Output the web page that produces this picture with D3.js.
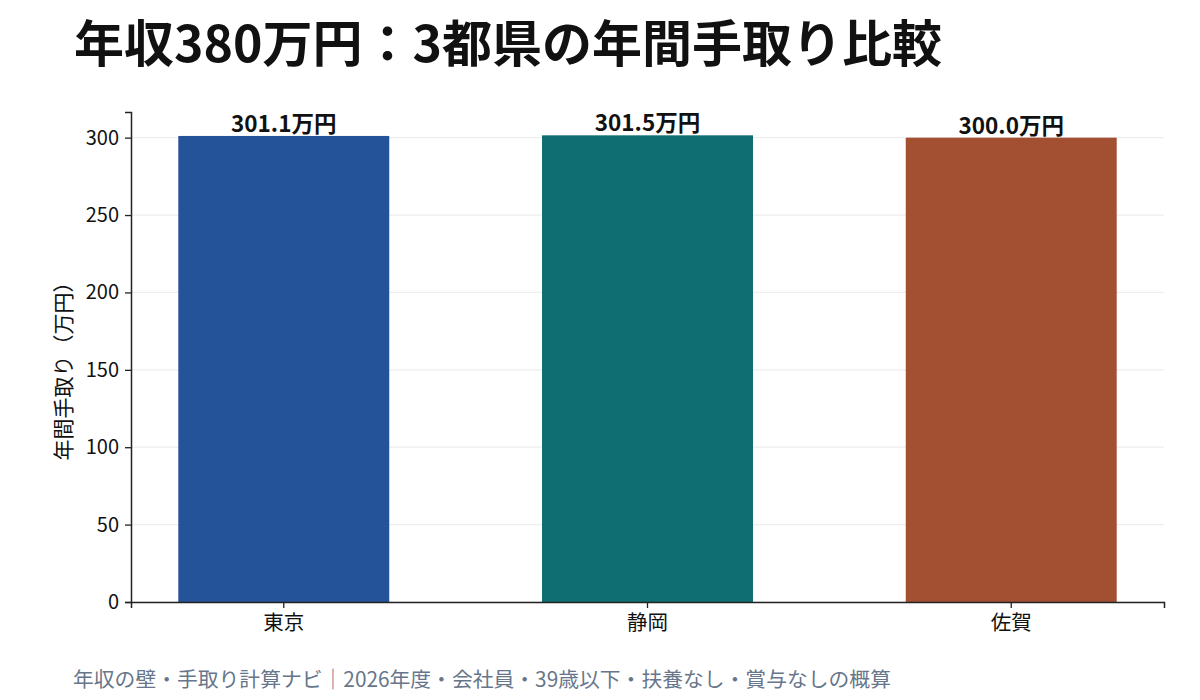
<!DOCTYPE html>
<html>
<head>
<meta charset="utf-8">
<script src="https://cdn.jsdelivr.net/npm/d3@7"></script>
<style>
  body { margin: 0; background: #fff; }
  svg { font-family: "Noto Sans CJK JP", "Noto Sans", sans-serif; }
</style>
</head>
<body>
<div id="wrapper"></div>
<script>
const prefectures = ["東京", "静岡", "佐賀"]
const takeHome = [301.1, 301.5, 300.0]
const barColors = ["#25539a", "#0e6e71", "#a24f32"]
const yTicks = [0, 50, 100, 150, 200, 250, 300]

const titleText = "年収380万円：3都県の年間手取り比較"
const yLabelText = "年間手取り（万円）"
const footerText = "年収の壁・手取り計算ナビ｜2026年度・会社員・39歳以下・扶養なし・賞与なしの概算"

const dataset = prefectures.map((p, i) => ({ name: p, value: takeHome[i], color: barColors[i] }))

const dimensions = {
  width: 1200,
  height: 700,
  margin: { top: 112, right: 36, bottom: 98, left: 131 }
}
dimensions.boundedWidth = dimensions.width - dimensions.margin.left - dimensions.margin.right
dimensions.boundedHeight = dimensions.height - dimensions.margin.top - dimensions.margin.bottom

const wrapper = d3.select("#wrapper")
  .append("svg")
    .attr("width", dimensions.width)
    .attr("height", dimensions.height)

const bounds = wrapper.append("g")
    .attr("transform", `translate(${dimensions.margin.left},${dimensions.margin.top})`)

const xScale = d3.scaleBand()
    .domain(prefectures)
    .range([0, dimensions.boundedWidth])
    .paddingInner(0.42)
    .paddingOuter(0.13)

const yScale = d3.scaleLinear()
    .domain([0, d3.max(takeHome) * 1.05])
    .range([dimensions.boundedHeight, 0])

// gridlines
bounds.append("g")
  .selectAll("line")
  .data(yTicks)
  .enter().append("line")
    .attr("x1", 0)
    .attr("x2", dimensions.boundedWidth)
    .attr("y1", d => yScale(d))
    .attr("y2", d => yScale(d))
    .attr("stroke", "#eeeeee")
    .attr("stroke-width", 1.2)

// bars
bounds.append("g")
  .selectAll("rect")
  .data(dataset)
  .enter().append("rect")
    .attr("x", d => xScale(d.name))
    .attr("y", d => yScale(d.value))
    .attr("width", xScale.bandwidth())
    .attr("height", d => dimensions.boundedHeight - yScale(d.value))
    .attr("fill", d => d.color)

// value labels
bounds.append("g")
  .selectAll("text")
  .data(dataset)
  .enter().append("text")
    .attr("x", d => xScale(d.name) + xScale.bandwidth() / 2)
    .attr("y", d => yScale(d.value) - 4)
    .attr("text-anchor", "middle")
    .attr("font-size", 22.5)
    .attr("font-weight", "bold")
    .attr("fill", "#111")
    .text(d => d.value.toFixed(1) + "万円")

// axes
const yAxis = bounds.append("g")
    .call(d3.axisLeft(yScale).tickValues(yTicks).tickSize(6).tickPadding(6))
yAxis.select(".domain").attr("stroke", "#222").attr("stroke-width", 1.5)
yAxis.selectAll(".tick line").attr("stroke", "#222").attr("stroke-width", 1.3)
yAxis.selectAll(".tick text").attr("font-size", 20).attr("fill", "#111")
  .attr("font-family", "'Noto Sans CJK JP', sans-serif")

const xAxis = bounds.append("g")
    .attr("transform", `translate(0,${dimensions.boundedHeight})`)
    .call(d3.axisBottom(xScale).tickSizeOuter(0).tickSize(6).tickPadding(7))
xAxis.select(".domain").attr("stroke", "#222").attr("stroke-width", 1.5)
xAxis.selectAll(".tick line").attr("stroke", "#222").attr("stroke-width", 1.3)
xAxis.selectAll(".tick text").attr("font-size", 20.5).attr("fill", "#111")
  .attr("font-family", "'Noto Sans CJK JP', sans-serif")

// y axis label
bounds.append("text")
    .attr("transform", `translate(${-69},${dimensions.boundedHeight / 2 + 9}) rotate(-90)`)
    .attr("text-anchor", "middle")
    .attr("dominant-baseline", "central")
    .attr("font-size", 21)
    .attr("fill", "#111")
    .text(yLabelText)

// title
wrapper.append("text")
    .attr("x", 74)
    .attr("y", 62)
    .attr("font-size", 50)
    .attr("font-weight", "bold")
    .attr("fill", "#111")
    .text(titleText)

// footer
wrapper.append("text")
    .attr("x", 73)
    .attr("y", 687)
    .attr("font-size", 20.8)
    .attr("fill", "#67768a")
    .text(footerText)
</script>
</body>
</html>
